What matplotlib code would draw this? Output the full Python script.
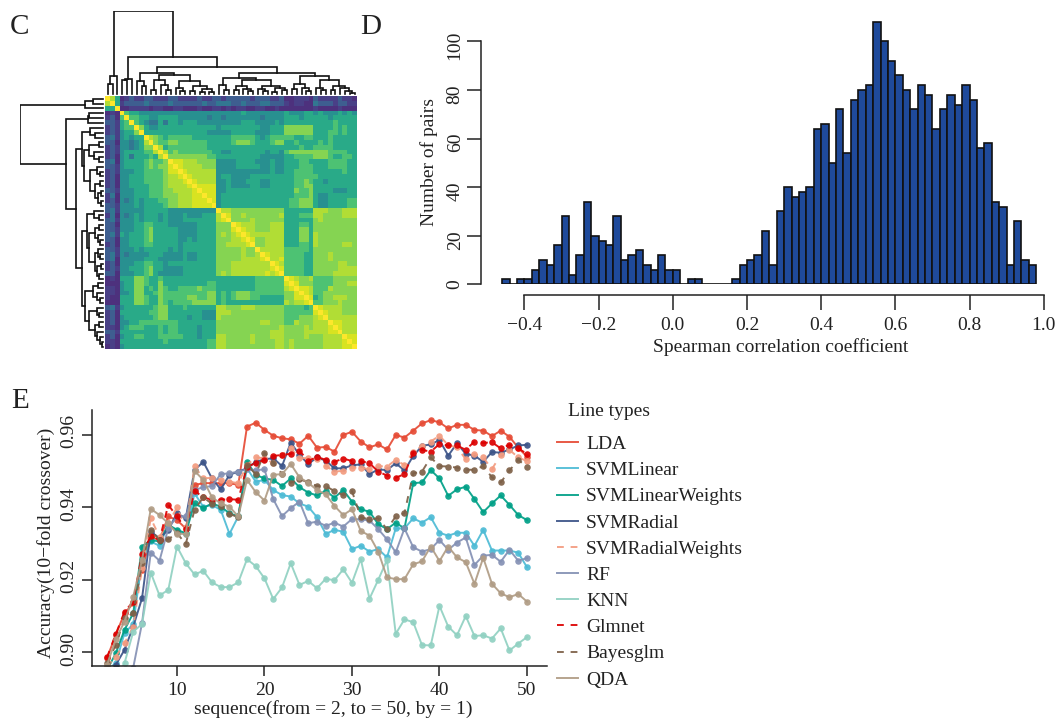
import numpy as np
import matplotlib
matplotlib.use("Agg")
import matplotlib.pyplot as plt
from matplotlib.transforms import ScaledTranslation

plt.rcParams['font.family'] = ['Liberation Serif', 'DejaVu Serif']
plt.rcParams['axes.unicode_minus'] = True

W, H = 1055, 722
INK = '#222222'
FS = 14

# ---- Panel C: correlation matrix, upper triangle, levels 0-9 and a ----
HEAT_LEVELS = [0.12, 0.17, 0.28, 0.38, 0.49, 0.60, 0.71, 0.81, 0.88, 0.94, 1.0]
HEAT_UPPER = [
 "a85 01211 22111 2211 112112 212 22221 222 112 001110 211112110",
 "a5 12222 32222 3222 222322 333 22322 233 222 101100 322212211",
 "a 00111 10110 0110 001001 101 01100 110 010 000000 100001000",
 "a6554 44444 4444 444444 444 44544 444 444 544455 454445454",
 "a665 54455 5544 444434 434 44444 434 444 555455 555455555",
 "a65 43353 5545 554444 444 44555 444 454 555555 555565555",
 "a7 54455 5555 555555 455 55555 544 555 777777 555565655",
 "a 55555 5555 555544 444 55555 444 555 777777 555665655",
 "a8765 6666 655555 555 66666 545 666 665566 555655555",
 "a766 7766 666655 555 67776 555 677 556555 565655555",
 "a85 6666 666655 555 55555 555 555 555655 666655555",
 "a8 6766 666665 544 55555 554 554 677777 777666655",
 "a 7777 777766 555 55555 544 444 556666 777655665",
 "a998 887777 444 45555 444 544 555665 555666655",
 "a98 888777 444 45555 544 544 555666 555666655",
 "a9 888888 444 44444 444 544 556666 555555655",
 "a 988888 455 44445 555 555 556666 655555555",
 "a98888 445 44455 544 555 556676 554555555",
 "a9999 445 44445 544 555 556677 555555555",
 "a999 445 55555 555 555 557667 555544455",
 "a99 455 55555 555 555 556667 544555555",
 "a9 455 55555 555 555 566777 544555566",
 "a 455 55555 555 555 566777 544555566",
 "a88 77777 777 777 555555 888777888",
 "a9 77877 777 778 555666 887777888",
 "a 77778 777 777 555555 787777777",
 "a9888 777 888 555665 777777777",
 "a988 777 888 555775 777777777",
 "a98 888 888 555775 877777777",
 "a9 778 888 555775 877777777",
 "a 778 888 555665 877777887",
 "a88 888 666665 777777777",
 "a9 888 666655 777877777",
 "a 889 666655 777877777",
 "a98 666655 777778877",
 "a9 666655 777778888",
 "a 666655 777788888",
 "a98778 666677777",
 "a9777 666677788",
 "a998 666877777",
 "a98 667777777",
 "a9 567788877",
 "a 667778777",
 "a98888777",
 "a9888777",
 "a888888",
 "a99888",
 "a9888",
 "a888",
 "a99",
 "a9",
 "a",
]

# Shared dendrogram: [height, left, right], 0 is a leaf
DENDRO = [255,
    [60, [38, 0, 0], 0],
    [119,
        [53, [50, 0, 0], 0],
        [87,
            [70,
                [47, 0, [32, 0, 0]],
                [64,
                    [50, [20, 0, 0], [34, 0, [20, 0, 0]]],
                    [45, [24, 0, [16, 0, 0]], [30, [16, 0, 0], [22, [14, 0, 0], [12, 0, 0]]]]]],
            [70,
                [54,
                    [33, 0, [20, 0, 0]],
                    [48,
                        [30, [18, 0, 0], [22, 0, [16, 0, 0]]],
                        [30, [22, 0, [16, 0, 0]], [24, [14, 0, 0], [18, 0, 0]]]]],
                [60,
                    [38, [22, 0, 0], [26, 0, [16, 0, 0]]],
                    [50, [24, 0, [18, 0, 0]], [30, [18, 0, 0], [24, 0, [16, 0, [10, 0, 0]]]]]]]]]]

# ---- Panel D: histogram counts, bins of width 0.02 from -0.46 ----
HIST_START = -0.46
HIST_WIDTH = 0.02
HIST_COUNTS = [2, 0, 2, 2, 6, 10, 8, 16, 28, 4, 12, 34, 20, 18, 16, 28, 10, 12, 14, 8, 6, 12, 6, 6,
               0, 2, 2, 0, 0, 0, 0, 2, 8, 10, 12, 22, 8, 30, 40, 36, 38, 40, 64, 66, 50, 72, 54, 76,
               80, 82, 108, 100, 92, 86, 80, 72, 82, 78, 64, 72, 78, 74, 82, 76, 56, 58, 34, 32, 8,
               26, 10, 8]

# ---- Panel E: accuracy x 10000, k = 2..50 ----
K = list(range(2, 51))
LDA = [8984, 9048, 9108, 9135, 9227, 9319, 9310, 9375, 9365, 9342, 9462, 9467, 9467, 9467, 9467, 9462,
       9623, 9634, 9614, 9598, 9591, 9588, 9576, 9598, 9565, 9567, 9554, 9600, 9609, 9582, 9566, 9574,
       9560, 9600, 9593, 9612, 9632, 9641, 9635, 9618, 9628, 9628, 9614, 9612, 9597, 9612, 9595, 9565, 9540]
SVML = [8951, 8970, 9053, 9078, 9255, 9306, 9294, 9352, 9336, 9327, 9439, 9402, 9407, 9393, 9327, 9375,
        9508, 9471, 9476, 9448, 9434, 9430, 9411, 9402, 9373, 9327, 9338, 9333, 9285, 9294, 9278, 9285,
        9262, 9342, 9342, 9370, 9358, 9373, 9330, 9322, 9330, 9330, 9294, 9338, 9281, 9281, 9281, 9275, 9235]
SVMLW = [8951, 8997, 9062, 9108, 9292, 9310, 9306, 9352, 9338, 9329, 9411, 9398, 9411, 9402, 9384, 9375,
         9526, 9490, 9480, 9476, 9459, 9480, 9456, 9441, 9433, 9446, 9427, 9448, 9416, 9395, 9388, 9354,
         9340, 9358, 9342, 9467, 9469, 9503, 9480, 9432, 9450, 9457, 9423, 9387, 9411, 9433, 9407, 9379, 9365]
SVMR = [8951, 8965, 9007, 9071, 9149, 9333, 9315, 9338, 9384, 9370, 9503, 9526, 9480, 9450, 9490, 9499,
        9508, 9526, 9533, 9536, 9514, 9579, 9545, 9520, 9538, 9529, 9508, 9508, 9516, 9519, 9492, 9505,
        9503, 9522, 9502, 9542, 9570, 9574, 9586, 9543, 9577, 9548, 9543, 9526, 9553, 9551, 9560, 9571, 9573]
SVMRW = [8961, 8988, 9025, 9071, 9232, 9370, 9319, 9356, 9400, 9342, 9514, 9480, 9482, 9476, 9471, 9467,
         9517, 9538, 9536, 9522, 9545, 9563, 9536, 9536, 9533, 9515, 9499, 9501, 9510, 9510, 9505, 9514,
         9513, 9531, 9517, 9554, 9570, 9582, 9598, 9572, 9566, 9533, 9548, 9538, 9506, 9545, 9559, 9538, 9528]
RF = [8920, 8930, 8945, 8958, 9080, 9275, 9253, 9342, 9375, 9375, 9448, 9456, 9459, 9492, 9494, 9499,
      9505, 9503, 9505, 9423, 9376, 9398, 9416, 9356, 9361, 9349, 9358, 9347, 9368, 9367, 9364, 9340,
      9312, 9276, 9342, 9290, 9278, 9285, 9310, 9283, 9303, 9317, 9241, 9267, 9269, 9250, 9283, 9253, 9260]
KNN = [8900, 8920, 8970, 9057, 9078, 9220, 9157, 9172, 9292, 9246, 9215, 9225, 9193, 9180, 9180, 9193,
       9257, 9238, 9204, 9147, 9179, 9246, 9186, 9197, 9177, 9203, 9199, 9229, 9192, 9258, 9148, 9200,
       9255, 9051, 9091, 9083, 9020, 9019, 9128, 9071, 9047, 9100, 9045, 9047, 9038, 9066, 9005, 9024, 9042]
GLMNET = [8986, 9050, 9112, 9140, 9272, 9321, 9310, 9407, 9375, 9340, 9446, 9428, 9421, 9421, 9423, 9421,
          9513, 9522, 9531, 9542, 9545, 9548, 9557, 9528, 9540, 9531, 9526, 9535, 9528, 9528, 9522, 9499,
          9488, 9482, 9492, 9551, 9559, 9554, 9575, 9571, 9571, 9559, 9582, 9578, 9580, 9563, 9573, 9563, 9548]
BAYES = [8970, 9020, 9094, 9108, 9246, 9338, 9310, 9312, 9329, 9299, 9393, 9428, 9410, 9404, 9382, 9373,
         9517, 9492, 9551, 9524, 9492, 9468, 9478, 9469, 9459, 9459, 9445, 9434, 9445, 9373, 9367, 9370,
         9340, 9375, 9384, 9494, 9499, 9538, 9514, 9513, 9510, 9504, 9504, 9514, 9483, 9469, 9502, 9531, 9513]
QDA = [8965, 9036, 9085, 9154, 9255, 9396, 9379, 9356, 9327, 9327, 9501, 9476, 9428, 9411, 9402, 9375,
       9476, 9442, 9419, 9490, 9492, 9520, 9483, 9468, 9448, 9436, 9404, 9379, 9395, 9335, 9322, 9278,
       9207, 9202, 9202, 9243, 9251, 9292, 9252, 9292, 9262, 9249, 9189, 9261, 9189, 9163, 9152, 9161, 9140]

SERIES_NAMES = ['LDA', 'SVMLinear', 'SVMLinearWeights', 'SVMRadial', 'SVMRadialWeights',
                'RF', 'KNN', 'Glmnet', 'Bayesglm', 'QDA']
SERIES_VALUES = [LDA, SVML, SVMLW, SVMR, SVMRW, RF, KNN, GLMNET, BAYES, QDA]
SERIES_COLORS = ['#E64B35', '#4DBBD5', '#00A087', '#3C5488', '#F39B7F',
                 '#8491B4', '#91D1C2', '#DC0000', '#7E6148', '#B09C85']
SERIES_DASHED = [False, False, False, False, True, False, False, True, True, False]


def box(left, top, right, bottom):
    return [left / W, 1 - bottom / H, (right - left) / W, (bottom - top) / H]


def fx(px):
    return px / W


def fy(px):
    return 1 - px / H


fig = plt.figure(figsize=(W / 100, H / 100), dpi=100, facecolor='white')

# ---------------- Panel C ----------------
n = len(HEAT_UPPER)
M = np.zeros((n, n))
for i, row in enumerate(HEAT_UPPER):
    chars = row.replace(' ', '')
    assert len(chars) == n - i, (i, len(chars))
    for j, c in enumerate(chars):
        M[i, i + j] = M[i + j, i] = HEAT_LEVELS[int(c, 16)]

ax_h = fig.add_axes(box(105.3, 96.3, 357.3, 349))
ax_h.imshow(M, cmap='viridis', vmin=0, vmax=1, alpha=0.97, aspect='auto',
            interpolation='nearest', extent=(0, n, n, 0))
ax_h.set_xlim(0, n)
ax_h.set_ylim(n, 0)
ax_h.axis('off')


def walk(node, counter, segs):
    if node == 0:
        x = counter[0]
        counter[0] += 1
        return x, 7
    h, a, b = node
    xa, ha = walk(a, counter, segs)
    xb, hb = walk(b, counter, segs)
    segs.append(([xa, xa, xb, xb], [ha, h, h, hb]))
    return (xa + xb) / 2, h


segs = []
walk(DENDRO, [0], segs)

ax_t = fig.add_axes(box(105.3, 11.3, 357.3, 96.3))
ax_l = fig.add_axes(box(20.3, 96.3, 105.3, 349))
for xs, hs in segs:
    ax_t.plot(xs, hs, color='#111111', lw=1.2, solid_joinstyle='miter')
    ax_l.plot(hs, xs, color='#111111', lw=1.2, solid_joinstyle='miter')
ax_t.set_xlim(-0.5, n - 0.5)
ax_t.set_ylim(0, 255)
ax_t.axis('off')
ax_l.set_ylim(n - 0.5, -0.5)
ax_l.set_xlim(255, 0)
ax_l.axis('off')

# ---------------- Panel D ----------------
ax_d = fig.add_axes(box(481.3, 20, 1043.7, 284.3))
edges = HIST_START + HIST_WIDTH * np.arange(len(HIST_COUNTS))
ax_d.bar(edges, HIST_COUNTS, width=HIST_WIDTH, align='edge', color='#1F4A9B',
         edgecolor='#111111', linewidth=1.2)
ax_d.set_xlim(-0.5164, 1.0)
ax_d.set_ylim(0, 108.8)
for s in ('top', 'right'):
    ax_d.spines[s].set_visible(False)
ax_d.spines['left'].set_bounds(0, 100)
ax_d.spines['bottom'].set_bounds(-0.4, 1.0)
ax_d.spines['bottom'].set_position(('outward', 10.7 * 0.72))
for s in ('left', 'bottom'):
    ax_d.spines[s].set_linewidth(1.1)
    ax_d.spines[s].set_color(INK)
ax_d.set_xticks(np.arange(-0.4, 1.01, 0.2))
ax_d.set_xticklabels(['\u22120.4', '\u22120.2', '0.0', '0.2', '0.4', '0.6', '0.8', '1.0'])
ax_d.set_yticks(np.arange(0, 101, 20))
ax_d.tick_params(axis='x', length=10.5, width=1.1, color=INK, labelsize=FS, labelcolor=INK, pad=5.5)
ax_d.tick_params(axis='y', length=10.2, width=1.1, color=INK, labelsize=FS, labelcolor=INK, pad=2.5)
for k, t in enumerate(ax_d.get_yticklabels()):
    t.set_rotation(90)
    t.set_va('center')
    if k > 0:
        t.set_transform(t.get_transform() + ScaledTranslation(0, -4 / 100, fig.dpi_scale_trans))
ax_d.set_xlabel('Spearman correlation coefficient', fontsize=FS, color=INK, va='center')
ax_d.xaxis.set_label_coords(fx(781), fy(347), transform=fig.transFigure)
ax_d.set_ylabel('Number of pairs', fontsize=FS, color=INK, va='center')
ax_d.yaxis.set_label_coords(fx(429), fy(162), transform=fig.transFigure)

# ---------------- Panel E ----------------
ax_e = fig.add_axes(box(91.7, 410, 547, 665.7))
for name, vals, col, dashed in zip(SERIES_NAMES, SERIES_VALUES, SERIES_COLORS, SERIES_DASHED):
    y = np.array(vals) / 10000
    ax_e.plot(K, y, color=col, lw=1.4, alpha=0.92,
              linestyle=(0, (3.5, 3.5)) if dashed else '-', label=name)
    ax_e.plot(K, y, color=col, lw=0, marker='o', ms=4.7, mew=0, alpha=0.92)
ax_e.set_xlim(0.25, 52.29)
ax_e.set_ylim(0.8963, 0.9669)
for s in ('top', 'right'):
    ax_e.spines[s].set_visible(False)
for s in ('left', 'bottom'):
    ax_e.spines[s].set_linewidth(1.1)
    ax_e.spines[s].set_color(INK)
ax_e.set_xticks([10, 20, 30, 40, 50])
ax_e.set_yticks([0.90, 0.92, 0.94, 0.96])
ax_e.set_yticklabels(['0.90', '0.92', '0.94', '0.96'])
ax_e.tick_params(axis='x', length=7.2, width=1.1, color=INK, labelsize=FS, labelcolor=INK, pad=4.8)
ax_e.tick_params(axis='y', length=7.2, width=1.1, color=INK, labelsize=FS, labelcolor=INK, pad=3)
for t in ax_e.get_yticklabels():
    t.set_rotation(90)
    t.set_va('center')
    t.set_transform(t.get_transform() + ScaledTranslation(0, 3.5 / 100, fig.dpi_scale_trans))
ax_e.set_xlabel('sequence(from = 2, to = 50, by = 1)', fontsize=FS, color=INK, va='center')
ax_e.xaxis.set_label_coords(fx(333), fy(709.5), transform=fig.transFigure)
ax_e.set_ylabel('Accuracy(10\u2212fold crossover)', fontsize=FS, color=INK, va='center')
ax_e.yaxis.set_label_coords(fx(46), fy(543), transform=fig.transFigure)

leg = ax_e.legend(loc='upper left', bbox_to_anchor=(fx(557), fy(435.5)), bbox_transform=fig.transFigure,
                  frameon=False, fontsize=FS, borderpad=0, borderaxespad=0, handlelength=1.08,
                  handletextpad=0.41, labelspacing=0.44, labelcolor=INK)
leg.set_clip_on(False)
fig.text(fx(568), fy(412), 'Line types', fontsize=FS, color=INK, va='center', ha='left')

# ---------------- Panel letters ----------------
for letter, px, py in [('C', 10, 27), ('D', 360, 27), ('E', 11, 401)]:
    fig.text(fx(px), fy(py), letter, fontsize=21, color=INK, va='center', ha='left')

fig.savefig('out.png', dpi=100, facecolor='white')
